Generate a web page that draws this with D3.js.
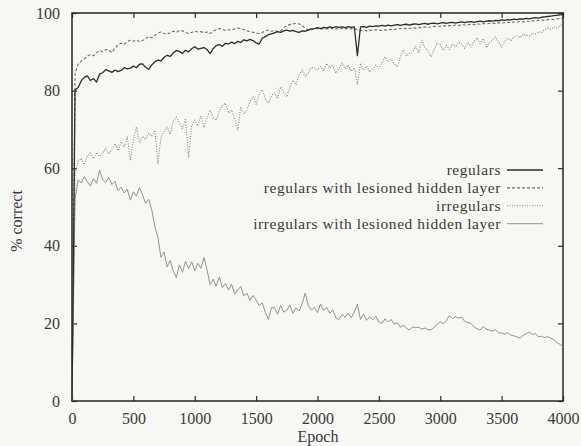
<!DOCTYPE html>
<meta charset="utf-8">
<script src="https://d3js.org/d3.v7.min.js"></script>
<style type="text/css">
  body { margin: 0; background: #f7f7f4; }
  svg { display: block; }
  .axis text { font-family: "Liberation Serif", "DejaVu Serif", serif; font-size: 16px; fill: #3a3a3a; }
  .axis line { stroke: #2a2a2a; stroke-width: 1.2; }
  .axis path { display: none; }
  .label { font-family: "Liberation Serif", "DejaVu Serif", serif; font-size: 16px; fill: #3a3a3a; }
  .legend text { font-size: 15.4px; letter-spacing: 0.6px; }
</style>
<body>
</body>
<script>

// epochs sampled every 25 (x categories)
var epochs = d3.range(0, 4001, 25);

var xTicks = [0, 500, 1000, 1500, 2000, 2500, 3000, 3500, 4000];
var yTicks = [0, 20, 40, 60, 80, 100];

var seriesNames = ["regulars", "regulars with lesioned hidden layer", "irregulars", "irregulars with lesioned hidden layer"];

// % correct, one value per 25 epochs
var regulars = [
  0, 80.2, 80.8, 82.5, 83.4, 83.8, 82.6, 83.1, 82.2, 84.3,
  84.6, 85.4, 85.1, 84.7, 85.3, 84.9, 85.2, 85.9, 85.6, 85.8,
  86.3, 85.9, 86.8, 86.9, 86.0, 85.5, 86.6, 87.4, 87.9, 87.6,
  88.6, 89.1, 88.8, 89.7, 90.3, 90.1, 89.6, 90.4, 90.0, 90.8,
  91.3, 90.7, 90.9, 91.1, 90.6, 89.5, 90.8, 91.6, 91.9, 91.4,
  92.2, 92.0, 92.5, 92.1, 92.7, 92.4, 93.1, 92.8, 93.2, 92.9,
  92.3, 92.0, 93.5, 93.9, 94.4, 94.6, 94.9, 95.2, 95.0, 95.4,
  95.6, 95.3, 95.5, 95.2, 95.0, 95.4, 95.3, 95.6, 95.9, 96.0,
  96.2, 96.0, 96.3, 96.1, 96.4, 96.2, 96.5, 96.3, 96.4, 96.2,
  96.5, 96.3, 96.4, 89.0, 96.4, 96.5, 96.3, 96.6, 96.5, 96.7,
  96.6, 96.8, 96.6, 96.9, 96.7, 96.9, 97.0, 96.8, 97.0, 97.1,
  96.9, 97.1, 97.2, 97.0, 97.2, 97.3, 97.1, 97.3, 97.4, 97.2,
  97.4, 97.5, 97.3, 97.5, 97.6, 97.4, 97.6, 97.7, 97.5, 97.7,
  97.8, 97.6, 97.8, 97.9, 97.7, 97.9, 98.0, 97.9, 98.1, 98.0,
  98.2, 98.1, 98.3, 98.2, 98.4, 98.3, 98.5, 98.4, 98.6, 98.5,
  98.7, 98.8, 98.7, 98.9, 99.0, 99.1, 99.2, 99.3, 99.4, 99.5,
  99.6
];

var regularsLesioned = [
  0, 84.5, 86.8, 87.6, 88.2, 88.9, 89.3, 89.0, 89.8, 90.3,
  90.0, 90.6, 90.4, 89.8, 90.9, 91.8, 92.2, 91.9, 92.6, 93.0,
  92.7, 93.1, 92.6, 92.9, 93.4, 93.9, 93.6, 94.2, 94.8, 95.1,
  94.7, 94.5, 94.9, 95.3, 95.0, 95.5, 95.4, 95.0, 94.7, 95.0,
  95.3, 95.1, 95.2, 94.9, 95.1, 94.7, 95.3, 95.7, 96.0, 95.8,
  95.5, 95.7, 95.6, 95.9, 96.1, 96.0, 95.7, 95.4, 95.2, 95.0,
  94.8, 94.7, 95.0, 95.4, 95.6, 95.3, 95.5, 95.2, 95.4, 96.2,
  96.8, 97.0, 97.2, 97.3, 97.2, 96.8, 96.0, 95.6, 95.7, 95.9,
  96.0, 95.8, 96.0, 95.9, 96.1, 95.9, 96.0, 95.8, 96.0, 95.9,
  96.1, 95.9, 96.0, 95.7, 95.5, 95.6, 95.4, 95.6, 95.5, 95.7,
  95.6, 95.5, 95.7, 95.6, 95.8, 95.7, 95.9, 96.0, 95.9, 96.1,
  96.0, 96.2, 96.1, 96.3, 96.2, 96.4, 96.3, 96.4, 96.6, 96.5,
  96.6, 96.7, 96.6, 96.8, 96.7, 96.9, 96.8, 97.0, 96.9, 97.0,
  97.1, 97.0, 97.2, 97.1, 97.3, 97.2, 97.3, 97.4, 97.3, 97.5,
  97.4, 97.5, 97.6, 97.5, 97.7, 97.6, 97.8, 97.7, 97.9, 97.8,
  98.0, 97.9, 98.1, 98.2, 98.1, 98.3, 98.4, 98.3, 98.5, 98.6,
  98.6
];

var irregulars = [
  0, 58.5, 61.8, 62.6, 60.9, 63.2, 63.9, 62.4, 64.1, 63.0,
  63.8, 65.2, 63.6, 64.9, 66.3, 64.5, 66.8, 65.4, 68.1, 62.0,
  67.3, 70.6, 66.5, 68.2, 67.4, 69.0, 68.3, 69.8, 61.2, 68.0,
  69.4, 70.6, 68.7, 72.1, 73.2, 71.6, 70.2, 72.8, 62.9, 71.0,
  72.4, 70.9, 73.5, 70.6, 72.9, 75.0, 73.1, 72.4, 74.6, 76.1,
  76.8, 74.2, 75.0, 72.8, 69.8, 75.8, 74.1, 75.0, 77.2, 78.4,
  76.5, 79.1, 80.2, 78.0, 76.8, 78.6, 79.4, 77.9, 81.0, 79.6,
  78.4, 80.9, 82.7, 81.5, 84.1, 85.3, 83.6, 84.5, 86.0, 85.8,
  85.3, 86.2, 85.1, 87.0, 85.8, 86.4, 84.5, 85.7, 87.1, 85.6,
  86.6, 85.0, 85.9, 81.6, 87.0, 85.2, 86.3, 84.8, 85.4, 86.6,
  85.7, 87.2, 88.7, 87.4, 88.1, 86.9, 86.1, 88.6, 90.5, 88.9,
  89.6, 90.0, 91.4, 89.7, 93.0, 91.1, 90.2, 88.7, 90.6, 92.2,
  91.8, 90.4, 91.7, 90.5, 92.0, 91.3, 92.5, 91.9, 90.9, 92.4,
  91.2, 92.7, 93.6, 92.1, 93.4, 91.0, 92.3, 93.1, 93.8, 92.6,
  91.2, 92.8, 93.5, 92.9, 93.8, 94.1, 93.6, 94.5, 94.3, 94.0,
  94.8, 94.6, 95.2, 94.9, 95.7, 96.1, 95.8, 96.4, 96.2, 96.8,
  97.0
];

var irregularsLesioned = [
  0, 52.0, 57.0, 56.2, 57.8, 56.5, 55.4, 57.3, 56.1, 59.5,
  57.0, 56.4, 57.6, 55.8, 56.6, 54.2, 55.1, 53.6, 54.6, 51.8,
  53.9, 52.8, 55.0, 53.1, 50.9, 52.0, 49.2, 45.0, 42.1, 37.0,
  38.4, 34.6, 36.2, 33.5, 31.8, 35.1, 33.2, 36.0, 34.1, 35.9,
  33.6, 35.5, 34.2, 37.0, 33.8, 30.0, 31.4, 29.6, 32.0, 29.2,
  30.3, 28.6, 30.1, 27.6, 28.6, 29.5, 27.1, 27.8, 25.9, 27.2,
  26.0, 24.6, 25.3, 22.8, 21.0, 24.1, 24.0, 22.4, 24.6, 22.9,
  23.4, 24.8, 22.6, 24.0, 23.2, 25.1, 27.8, 24.6, 23.4, 24.2,
  22.8, 25.0, 23.3, 24.1, 22.6, 23.5, 21.4, 21.0, 22.3, 21.6,
  22.6, 21.5, 22.9, 25.0, 21.0, 22.4, 20.8, 21.7, 20.9, 21.9,
  20.3, 20.0, 21.2, 20.4, 21.0, 19.8, 20.2, 19.0, 19.6, 18.7,
  18.3, 19.1, 18.9, 19.0, 18.5, 18.8, 18.4, 18.3, 19.0, 19.8,
  20.4, 19.9, 20.8, 22.0, 21.2, 21.7, 21.4, 21.6, 20.5, 20.2,
  20.0, 19.1, 18.6, 18.3, 19.2, 18.5, 18.3, 18.0, 18.4, 17.6,
  17.5, 17.2, 17.6, 17.0, 16.8, 16.5, 16.2, 16.9, 17.3, 17.8,
  17.1, 17.4, 16.5, 16.7, 16.3, 16.6, 16.2, 15.8, 15.1, 14.6,
  14.0
];

var width = 581, height = 446;
var plot = {left: 72, right: 563, top: 13, bottom: 401};

var svg = d3.select("body").append("svg")
  .attr("width", width)
  .attr("height", height);

var xScale = d3.scaleLinear().domain([0, 4000]).range([plot.left, plot.right]);
var yScale = d3.scaleLinear().domain([0, 100]).range([plot.bottom, plot.top]);

// axes, gnuplot style: inward ticks mirrored on top/right
svg.append("g")
  .attr("class", "axis")
  .attr("transform", `translate(0,${plot.bottom})`)
  .call(d3.axisBottom(xScale).tickValues(xTicks).tickSize(-5).tickPadding(12).tickFormat(d3.format("d")));

svg.append("g")
  .attr("class", "axis")
  .attr("transform", `translate(0,${plot.top})`)
  .call(d3.axisTop(xScale).tickValues(xTicks).tickSize(-5).tickFormat(""));

svg.append("g")
  .attr("class", "axis")
  .attr("transform", `translate(${plot.left},0)`)
  .call(d3.axisLeft(yScale).tickValues(yTicks).tickSize(-5).tickPadding(12));

svg.append("g")
  .attr("class", "axis")
  .attr("transform", `translate(${plot.right},0)`)
  .call(d3.axisRight(yScale).tickValues(yTicks).tickSize(-5).tickFormat(""));

svg.append("rect")
  .attr("x", plot.left)
  .attr("y", plot.top)
  .attr("width", plot.right - plot.left)
  .attr("height", plot.bottom - plot.top)
  .style("fill", "none")
  .style("stroke", "#262626")
  .style("stroke-width", 1.5);

// axis titles
svg.append("text")
  .attr("class", "label")
  .attr("x", 318)
  .attr("y", 442)
  .attr("text-anchor", "middle")
  .text("Epoch");

svg.append("text")
  .attr("class", "label")
  .attr("transform", "translate(22,221) rotate(-90)")
  .attr("text-anchor", "middle")
  .text("% correct");

var line = d3.line()
  .x((d, i) => xScale(epochs[i]))
  .y(d => yScale(d));

var styles = [
  {data: regulars, color: "#2b2b2b", w: 1.3, dash: null},
  {data: regularsLesioned, color: "#6f6f6f", w: 1.1, dash: "3,2"},
  {data: irregulars, color: "#858585", w: 1.1, dash: "1,1.5"},
  {data: irregularsLesioned, color: "#929292", w: 1, dash: null}
];

// draw back to front so the dark regulars line sits on top
styles.slice().reverse().forEach(s => {
  svg.append("path")
    .datum(s.data)
    .attr("d", line)
    .style("fill", "none")
    .style("stroke", s.color)
    .style("stroke-width", s.w)
    .style("stroke-dasharray", s.dash)
    .style("stroke-linejoin", "round");
});

// legend
var legend = svg.append("g").attr("class", "legend");
seriesNames.forEach((name, i) => {
  var y = 170 + i * 17.9;
  legend.append("text")
    .attr("class", "label")
    .attr("x", 501)
    .attr("y", y)
    .attr("dy", "0.35em")
    .attr("text-anchor", "end")
    .text(name);
  legend.append("line")
    .attr("x1", 507).attr("x2", 543)
    .attr("y1", y).attr("y2", y)
    .style("stroke", styles[i].color)
    .style("stroke-width", styles[i].w)
    .style("stroke-dasharray", styles[i].dash);
});

</script>
